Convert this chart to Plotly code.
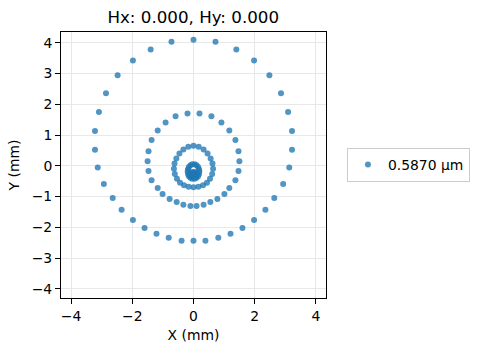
import plotly.graph_objects as go

# ---- data (in mm) ----
x_ring6 = [0, 0.72, 1.40, 1.98, 2.48, 2.86, 3.09, 3.22, 3.22, 3.13, 2.93, 2.64, 2.35, 1.98, 1.60, 1.21, 0.81, 0.39,
           0, -0.39, -0.81, -1.21, -1.60, -1.98, -2.35, -2.64, -2.93, -3.13, -3.22, -3.22, -3.09, -2.86, -2.48, -1.98,
           -1.40, -0.72]
y_ring6 = [4.10, 4.03, 3.78, 3.42, 2.94, 2.36, 1.75, 1.13, 0.52, -0.06, -0.59, -1.05, -1.43, -1.76, -2.02, -2.21,
           -2.34, -2.44, -2.44, -2.44, -2.34, -2.21, -2.02, -1.76, -1.43, -1.05, -0.59, -0.06, 0.52, 1.13, 1.75, 2.36,
           2.94, 3.42, 3.78, 4.03]

x_ring5 = [0.195, 0.586, 0.912, 1.17, 1.37, 1.47, 1.50, 1.47, 1.37, 1.17, 1.01, 0.78, 0.55, 0.33, 0.10,
           -0.10, -0.33, -0.55, -0.78, -1.01, -1.17, -1.37, -1.47, -1.50, -1.47, -1.37, -1.17, -0.912, -0.586, -0.195]
y_ring5 = [1.70, 1.61, 1.41, 1.15, 0.84, 0.47, 0.15, -0.17, -0.47, -0.72, -0.92, -1.08, -1.18, -1.27, -1.31,
           -1.31, -1.27, -1.18, -1.08, -0.92, -0.72, -0.47, -0.17, 0.15, 0.47, 0.84, 1.15, 1.41, 1.61, 1.70]

x_ring4 = [0, 0.17, 0.33, 0.46, 0.56, 0.62, 0.64, 0.61, 0.54, 0.44, 0.31, 0.16,
           0, -0.16, -0.31, -0.44, -0.54, -0.61, -0.64, -0.62, -0.56, -0.46, -0.33, -0.17]
y_ring4 = [0.65, 0.62, 0.53, 0.40, 0.24, 0.07, -0.10, -0.27, -0.42, -0.55, -0.63, -0.68,
           -0.70, -0.68, -0.63, -0.55, -0.42, -0.27, -0.10, 0.07, 0.24, 0.40, 0.53, 0.62]

x_ring3 = [0.04, 0.10, 0.15, 0.18, 0.19, 0.18, 0.15, 0.10, 0.04,
           -0.04, -0.10, -0.15, -0.18, -0.19, -0.18, -0.15, -0.10, -0.04]
y_ring3 = [0.05, 0.02, -0.04, -0.11, -0.19, -0.27, -0.34, -0.39, -0.42,
           -0.42, -0.39, -0.34, -0.27, -0.19, -0.11, -0.04, 0.02, 0.05]

x_ring2 = [0, 0.05, 0.08, 0.10, 0.08, 0.05, 0, -0.05, -0.08, -0.10, -0.08, -0.05]
y_ring2 = [-0.20, -0.21, -0.24, -0.28, -0.32, -0.35, -0.36, -0.35, -0.32, -0.28, -0.24, -0.21]

x_ring1 = [0.02, 0.01, -0.01, -0.02, -0.01, 0.01]
y_ring1 = [-0.29, -0.28, -0.28, -0.29, -0.30, -0.30]

x_center = [0]
y_center = [-0.29]

wavelength_label = "0.5870 µm"
title_text = "Hx: 0.000, Hy: 0.000"
x_ticks = [-4, -2, 0, 2, 4]
y_ticks = [-4, -3, -2, -1, 0, 1, 2, 3, 4]

x_all = x_ring6 + x_ring5 + x_ring4 + x_ring3 + x_ring2 + x_ring1 + x_center
y_all = y_ring6 + y_ring5 + y_ring4 + y_ring3 + y_ring2 + y_ring1 + y_center


def lab(v):
    return str(v).replace("-", "\u2212")


FONT = "DejaVu Sans"
W, H = 481, 352
L, R, T, B = 60.5, 326, 31.5, 298.5

fig = go.Figure()
fig.add_trace(go.Scatter(
    x=x_all, y=y_all, mode="markers", name=wavelength_label,
    marker=dict(size=6, color="rgba(31,119,180,0.78)", line=dict(width=0)),
))

axis_common = dict(
    showline=True, mirror=True, linecolor="black", linewidth=1,
    ticks="outside", ticklen=5, tickwidth=1, tickcolor="black",
    showgrid=True, gridcolor="#e8e8e8", gridwidth=1,
    zeroline=False, tickfont=dict(family=FONT, size=13.9, color="black"),
)

fig.update_layout(
    width=W, height=H,
    margin=dict(l=L, r=W - R, t=T, b=H - B, autoexpand=False),
    paper_bgcolor="white", plot_bgcolor="white",
    font=dict(family=FONT, size=13.9, color="black"),
    title=dict(text=title_text, x=(L + R) / 2 / W, xanchor="center",
               y=1 - 17 / H, yanchor="middle", yref="container",
               font=dict(family=FONT, size=16.7, color="black")),
    xaxis=dict(range=[-4.33, 4.33], tickvals=x_ticks, ticktext=[lab(v) for v in x_ticks],
               title=dict(text="X (mm)", font=dict(family=FONT, size=13.9), standoff=7),
               **axis_common),
    yaxis=dict(range=[-4.3, 4.35], tickvals=y_ticks, ticktext=[lab(v) for v in y_ticks],
               title=dict(text="Y (mm)", font=dict(family=FONT, size=13.9), standoff=8),
               **axis_common),
    showlegend=True,
    legend=dict(x=1.079, y=0.5, xanchor="left", yanchor="middle",
                bgcolor="white", bordercolor="#cccccc", borderwidth=1,
                font=dict(family=FONT, size=13.9, color="black")),
)

fig.write_html("out.html")
